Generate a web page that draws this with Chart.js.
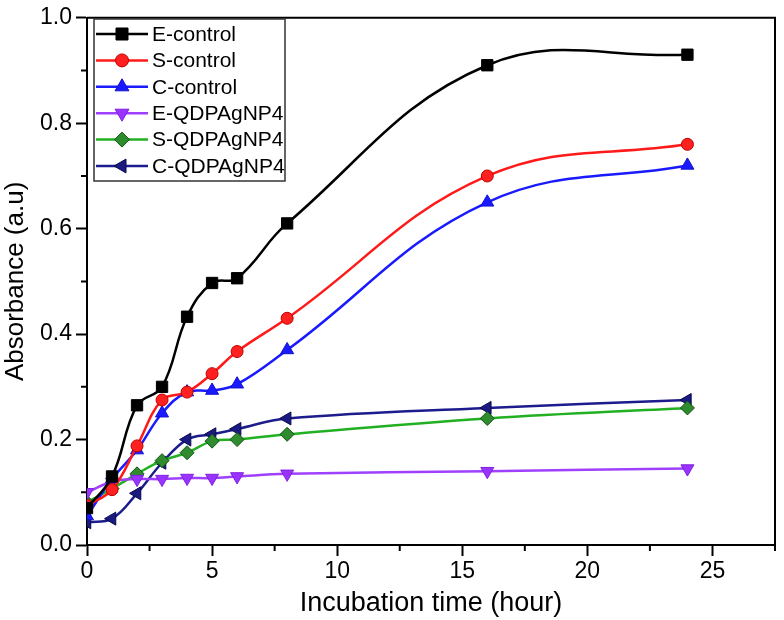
<!DOCTYPE html>
<html>
<head>
<meta charset="utf-8">
<script src="https://cdn.jsdelivr.net/npm/chart.js@4/dist/chart.umd.min.js"></script>
<style>
  html, body { margin: 0; padding: 0; background: #fff; }
  #wrap { width: 784px; height: 620px; }
</style>
</head>
<body>
<div id="wrap"><canvas id="absChart" width="784" height="620"></canvas></div>
<script>
// Incubation time (hour) and absorbance readings
const hours = [0, 1, 2, 3, 4, 5, 6, 8, 16, 24];
const eControl = [0.07, 0.13, 0.265, 0.30, 0.433, 0.497, 0.506, 0.61, 0.91, 0.93];
const sControl = [0.075, 0.105, 0.188, 0.275, 0.29, 0.325, 0.367, 0.43, 0.70, 0.76];
const cControl = [0.055, 0.125, 0.18, 0.25, 0.29, 0.293, 0.305, 0.37, 0.65, 0.72];
const eQdp = [0.10, 0.12, 0.125, 0.125, 0.127, 0.127, 0.13, 0.135, 0.14, 0.145];
const sQdp = [0.081, 0.107, 0.135, 0.16, 0.175, 0.197, 0.20, 0.21, 0.24, 0.26];
const cQdp = [0.043, 0.05, 0.098, 0.156, 0.20, 0.21, 0.22, 0.24, 0.26, 0.275];

const seriesNames = ['E-control', 'S-control', 'C-control', 'E-QDPAgNP4', 'S-QDPAgNP4', 'C-QDPAgNP4'];
const xTickLabels = [0, 5, 10, 15, 20, 25];
const yTickLabels = [0.0, 0.2, 0.4, 0.6, 0.8, 1.0];

const FONT = "'Liberation Sans', Arial, sans-serif";

function pts(ys) {
  return hours.map((h, i) => ({ x: h, y: ys[i] }));
}

function makeSet(label, ys, line, fill, edge, style, radius, rotation) {
  return {
    label: label,
    data: pts(ys),
    borderColor: line,
    borderWidth: 2.5,
    backgroundColor: fill,
    pointBackgroundColor: fill,
    pointBorderColor: edge,
    pointBorderWidth: 1,
    pointStyle: style,
    pointRadius: radius,
    pointRotation: rotation,
    tension: 0.4,
    fill: false
  };
}

const datasets = [
  makeSet(seriesNames[0], eControl, '#000000', '#000000', '#000000', 'rect', 8, 0),
  makeSet(seriesNames[1], sControl, '#ff1a1a', '#ff2020', '#c00000', 'circle', 6, 0),
  makeSet(seriesNames[2], cControl, '#1a1aff', '#1a1aff', '#1010d0', 'triangle', 7.5, 0),
  makeSet(seriesNames[3], eQdp, '#a040ff', '#9933ff', '#8020e0', 'triangle', 7.5, 180),
  makeSet(seriesNames[4], sQdp, '#22b022', '#2e8b2e', '#145214', 'rectRot', 7, 0),
  makeSet(seriesNames[5], cQdp, '#1c1c8c', '#1a1a80', '#0a0a50', 'triangle', 7.5, -90)
];

// minor ticks, box border and legend
const framePlugin = {
  id: 'frame',
  afterDraw(chart) {
    const ctx = chart.ctx;
    const a = chart.chartArea;
    const xs = chart.scales.x, ys = chart.scales.y;
    ctx.save();
    ctx.strokeStyle = '#000';
    ctx.lineWidth = 2;
    ctx.beginPath();
    ctx.moveTo(a.left, a.top); ctx.lineTo(a.right, a.top); ctx.lineTo(a.right, a.bottom);
    ctx.stroke();
    // minor ticks
    ctx.beginPath();
    xs.ticks.forEach(t => {
      if (t.value % 5 !== 0) {
        const px = xs.getPixelForValue(t.value);
        ctx.moveTo(px, a.bottom); ctx.lineTo(px, a.bottom + 6);
      }
    });
    ys.ticks.forEach(t => {
      if (Math.round(t.value * 10) % 2 !== 0) {
        const py = ys.getPixelForValue(t.value);
        ctx.moveTo(a.left, py); ctx.lineTo(a.left - 6, py);
      }
    });
    ctx.stroke();

    // legend
    const lx = 94, ly = 19, lw = 191, lh = 162, rowH = 26.4;
    ctx.lineWidth = 1.5;
    ctx.strokeStyle = '#333';
    ctx.strokeRect(lx, ly, lw, lh);
    ctx.font = '21px ' + FONT;
    ctx.textBaseline = 'middle';
    ctx.fillStyle = '#000';
    chart.data.datasets.forEach((ds, i) => {
      const cy = ly + 15 + i * rowH;
      ctx.strokeStyle = ds.borderColor;
      ctx.lineWidth = 2.5;
      ctx.beginPath();
      ctx.moveTo(lx + 2, cy); ctx.lineTo(lx + 54, cy);
      ctx.stroke();
      ctx.fillStyle = ds.pointBackgroundColor;
      ctx.strokeStyle = ds.pointBorderColor;
      ctx.lineWidth = 1;
      Chart.helpers.drawPoint(ctx, {
        pointStyle: ds.pointStyle,
        radius: ds.pointRadius + 0.5,
        rotation: ds.pointRotation,
        borderWidth: 1
      }, lx + 28, cy);
      ctx.fillStyle = '#000';
      ctx.fillText(ds.label, lx + 58, cy + 1);
    });
    ctx.restore();
  }
};

const chart = new Chart(document.getElementById('absChart'), {
  type: 'line',
  data: { datasets: datasets },
  options: {
    responsive: false,
    animation: false,
    layout: { padding: { top: 14, right: 0, left: 0, bottom: 0 } },
    plugins: { legend: { display: false }, tooltip: { enabled: false } },
    scales: {
      x: {
        type: 'linear',
        min: 0,
        max: 27.5,
        afterFit(s) { s.height = 75; },
        afterBuildTicks(s) {
          const t = [];
          for (let v = 0; v <= 27.5; v += 2.5) t.push({ value: v });
          s.ticks = t;
        },
        border: { display: true, color: '#000', width: 2 },
        grid: {
          drawOnChartArea: false,
          drawTicks: true,
          tickLength: 11,
          tickWidth: 2,
          tickColor: c => (c.tick && xTickLabels.includes(c.tick.value)) ? '#000' : 'rgba(0,0,0,0)'
        },
        ticks: {
          autoSkip: false,
          maxRotation: 0,
          padding: 2,
          color: '#000',
          font: { family: FONT, size: 23 },
          callback: v => xTickLabels.includes(v) ? String(v) : ''
        },
        title: {
          display: true,
          text: 'Incubation time (hour)',
          color: '#000',
          font: { family: FONT, size: 27 },
          padding: { top: 0, bottom: 0 }
        }
      },
      y: {
        min: 0,
        max: 1,
        afterFit(s) { s.width = 87; },
        afterBuildTicks(s) {
          const t = [];
          for (let i = 0; i <= 10; i++) t.push({ value: i / 10 });
          s.ticks = t;
        },
        border: { display: true, color: '#000', width: 2 },
        grid: {
          drawOnChartArea: false,
          drawTicks: true,
          tickLength: 11,
          tickWidth: 2,
          tickColor: c => (c.tick && Math.round(c.tick.value * 10) % 2 === 0) ? '#000' : 'rgba(0,0,0,0)'
        },
        ticks: {
          autoSkip: false,
          padding: 4,
          color: '#000',
          font: { family: FONT, size: 23 },
          callback: v => {
            const k = Math.round(v * 10);
            return k % 2 === 0 ? yTickLabels[k / 2].toFixed(1) : '';
          }
        },
        title: {
          display: true,
          text: 'Absorbance (a.u)',
          color: '#000',
          font: { family: FONT, size: 26 },
          padding: { top: 0, bottom: 6 }
        }
      }
    }
  },
  plugins: [framePlugin]
});
</script>
</body>
</html>
